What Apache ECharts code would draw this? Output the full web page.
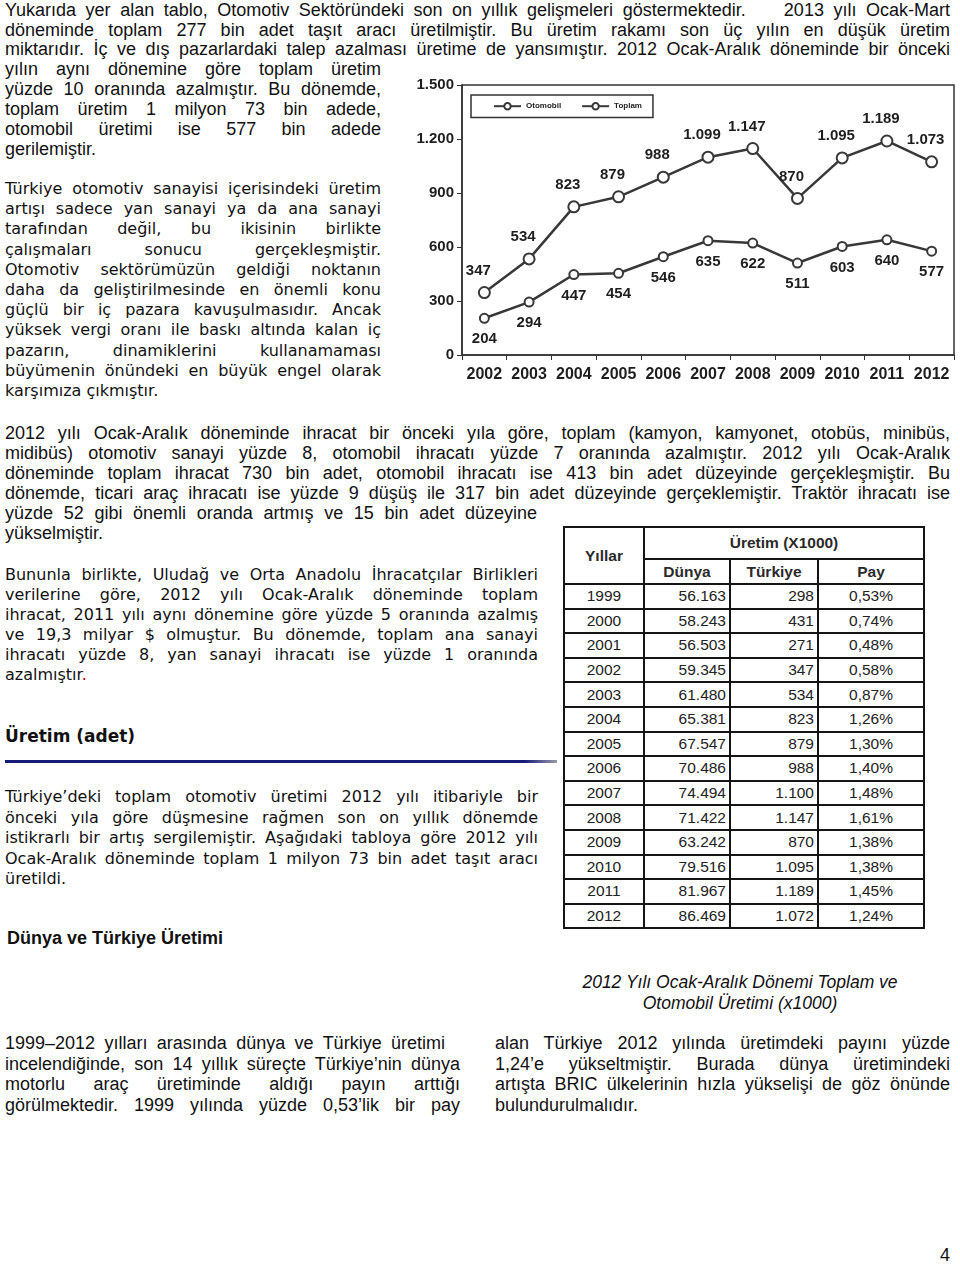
<!DOCTYPE html>
<html>
<head>
<meta charset="utf-8">
<script src="https://cdn.jsdelivr.net/npm/echarts@6/dist/echarts.min.js"></script>
<style>
  html, body { margin: 0; padding: 0; background: #fff; }
  #page { position: relative; width: 960px; height: 1265px; overflow: hidden; background: #fff; color: #111; }
  .ln { position: absolute; height: 20px; line-height: 20px; white-space: normal; overflow: visible; }
  .j { text-align: justify; text-align-last: justify; }
  .v { font-family: "DejaVu Sans", Verdana, sans-serif; font-size: 16px; }
  .t { font-family: "Liberation Sans", Arial, sans-serif; font-size: 18px; }
  #chart { position: absolute; left: 400px; top: 60px; width: 560px; height: 340px; }
  #tbl { position: absolute; left: 563px; top: 526px; border-collapse: collapse; table-layout: fixed;
         font-family: "Liberation Sans", Arial, sans-serif; font-size: 15.5px; color: #222; }
  #tbl td, #tbl th { border: 2px solid #151515; padding: 0 3px; line-height: 18px; }
  #tbl th { font-weight: bold; color: #2a2a2a; }
  .abs { position: absolute; }
</style>
</head>
<body>
<div id="page">
  <div id="chart"></div>
</div>
<script>
// ---------------- chart data ----------------
const years = ['2002','2003','2004','2005','2006','2007','2008','2009','2010','2011','2012'];
const toplam = [347, 534, 823, 879, 988, 1099, 1147, 870, 1095, 1189, 1073];
const otomobil = [204, 294, 447, 454, 546, 635, 622, 511, 603, 640, 577];
const seriesNames = ['Otomobil', 'Toplam'];

// ---------------- table data ----------------
const tableYears = [1999, 2000, 2001, 2002, 2003, 2004, 2005, 2006, 2007, 2008, 2009, 2010, 2011, 2012];
const worldProd = [56163, 58243, 56503, 59345, 61480, 65381, 67547, 70486, 74494, 71422, 63242, 79516, 81967, 86469];
const turkeyProd = [298, 431, 271, 347, 534, 823, 879, 988, 1100, 1147, 870, 1095, 1189, 1072];
const sharePct = [0.53, 0.74, 0.48, 0.58, 0.87, 1.26, 1.30, 1.40, 1.48, 1.61, 1.38, 1.38, 1.45, 1.24];

const fmt = v => String(v).replace(/\B(?=(\d{3})+(?!\d))/g, '.');
const fmtPct = v => v.toFixed(2).replace('.', ',') + '%';

const page = document.getElementById('page');

// ---------------- text ----------------
function addLines(lines, x, w, y0, dy, cls) {
  lines.forEach((l, i) => {
    const d = document.createElement('div');
    d.className = 'ln ' + cls + (l.j ? ' j' : '');
    d.style.left = x + 'px';
    d.style.top = (y0 + i * dy - 10) + 'px';
    d.style.width = (l.w || w) + 'px';
    if (l.h) d.innerHTML = l.h; else d.textContent = l.t;
    page.appendChild(d);
  });
}

addLines([
  {t: 'Yukarıda yer alan tablo, Otomotiv Sektöründeki son on yıllık gelişmeleri göstermektedir.\u00a0\u00a0\u00a0 2013 yılı Ocak-Mart', j: true},
  {t: 'döneminde toplam 277 bin adet taşıt aracı üretilmiştir. Bu üretim rakamı son üç yılın en düşük üretim', j: true},
  {t: 'miktarıdır. İç ve dış pazarlardaki talep azalması üretime de yansımıştır. 2012 Ocak-Aralık döneminde bir önceki', j: true}
], 5, 945, 10, 19.5, 't');
addLines([
  {t: 'yılın aynı dönemine göre toplam üretim', j: true},
  {t: 'yüzde 10 oranında azalmıştır. Bu dönemde,', j: true},
  {t: 'toplam üretim 1 milyon 73 bin adede,', j: true},
  {t: 'otomobil üretimi ise 577 bin adede', j: true},
  {t: 'gerilemiştir.', j: false}
], 5, 376, 68.5, 20, 't');

addLines([
  {t: 'Türkiye otomotiv sanayisi içerisindeki üretim', j: true},
  {t: 'artışı sadece yan sanayi ya da ana sanayi', j: true},
  {t: 'tarafından değil, bu ikisinin birlikte', j: true},
  {t: 'çalışmaları sonucu gerçekleşmiştir.', j: true},
  {t: 'Otomotiv sektörümüzün geldiği noktanın', j: true},
  {t: 'daha da geliştirilmesinde en önemli konu', j: true},
  {t: 'güçlü bir iç pazara kavuşulmasıdır. Ancak', j: true},
  {t: 'yüksek vergi oranı ile baskı altında kalan iç', j: true},
  {t: 'pazarın, dinamiklerini kullanamaması', j: true},
  {t: 'büyümenin önündeki en büyük engel olarak', j: true},
  {t: 'karşımıza çıkmıştır.', j: false}
], 5, 376, 189, 20.2, 'v');

addLines([
  {t: '2012 yılı Ocak-Aralık döneminde ihracat bir önceki yıla göre, toplam (kamyon, kamyonet, otobüs, minibüs,', j: true},
  {t: 'midibüs) otomotiv sanayi yüzde 8, otomobil ihracatı yüzde 7 oranında azalmıştır. 2012 yılı Ocak-Aralık', j: true},
  {t: 'döneminde toplam ihracat 730 bin adet, otomobil ihracatı ise 413 bin adet düzeyinde gerçekleşmiştir. Bu', j: true},
  {t: 'dönemde, ticari araç ihracatı ise yüzde 9 düşüş ile 317 bin adet düzeyinde gerçeklemiştir. Traktör ihracatı ise', j: true},
  {t: 'yüzde 52 gibi önemli oranda artmış ve 15 bin adet düzeyine', j: true, w: 532},
  {t: 'yükselmiştir.', j: false}
], 5, 945, 433, 20, 't');

addLines([
  {t: 'Bununla birlikte, Uludağ ve Orta Anadolu İhracatçılar Birlikleri', j: true},
  {t: 'verilerine göre, 2012 yılı Ocak-Aralık döneminde toplam', j: true},
  {t: 'ihracat, 2011 yılı aynı dönemine göre yüzde 5 oranında azalmış', j: true},
  {t: 've 19,3 milyar $ olmuştur. Bu dönemde, toplam ana sanayi', j: true},
  {t: 'ihracatı yüzde 8, yan sanayi ihracatı ise yüzde 1 oranında', j: true},
  {h: 'azalmıştır<span style="color:#c00000">.</span>', j: false}
], 5, 533, 575, 20, 'v');

addLines([{t: 'Üretim (adet)', j: false}], 5, 300, 736, 20, 'v');
page.lastChild.style.fontWeight = 'bold';
page.lastChild.style.fontSize = '17px';

const bar = document.createElement('div');
bar.className = 'abs';
Object.assign(bar.style, {left: '5px', top: '760px', width: '552px', height: '3px',
  background: 'linear-gradient(to right, #141b78 0%, #141b78 94%, #9a9aa8 100%)'});
page.appendChild(bar);

addLines([
  {t: 'Türkiye’deki toplam otomotiv üretimi 2012 yılı itibariyle bir', j: true},
  {t: 'önceki yıla göre düşmesine rağmen son on yıllık dönemde', j: true},
  {t: 'istikrarlı bir artış sergilemiştir. Aşağıdaki tabloya göre 2012 yılı', j: true},
  {t: 'Ocak-Aralık döneminde toplam 1 milyon 73 bin adet taşıt aracı', j: true},
  {t: 'üretildi.', j: false}
], 5, 533, 797, 20.5, 'v');

addLines([{t: 'Dünya ve Türkiye Üretimi', j: false}], 7, 400, 938, 20, 't');
Object.assign(page.lastChild.style, {fontWeight: 'bold', fontSize: '18px'});

addLines([
  {t: '2012 Yılı Ocak-Aralık Dönemi Toplam ve', j: false},
  {t: 'Otomobil Üretimi (x1000)', j: false}
], 540, 400, 982, 20.5, 't');
[page.lastChild, page.lastChild.previousSibling].forEach(d => {
  Object.assign(d.style, {fontStyle: 'italic', fontSize: '17.5px', textAlign: 'center'});
});

addLines([
  {t: '1999–2012 yılları arasında dünya ve Türkiye üretimi', j: true, w: 440},
  {t: 'incelendiğinde, son 14 yıllık süreçte Türkiye’nin dünya', j: true},
  {t: 'motorlu araç üretiminde aldığı payın arttığı', j: true},
  {t: 'görülmektedir. 1999 yılında yüzde 0,53’lik bir pay', j: true}
], 5, 455, 1043, 20.7, 't');
addLines([
  {t: 'alan Türkiye 2012 yılında üretimdeki payını yüzde', j: true},
  {t: '1,24’e yükseltmiştir. Burada dünya üretimindeki', j: true},
  {t: 'artışta BRIC ülkelerinin hızla yükselişi de göz önünde', j: true},
  {t: 'bulundurulmalıdır.', j: false}
], 495, 455, 1043, 20.7, 't');

addLines([{t: '4', j: false}], 940, 20, 1255, 20, 't');

// shrink any line that wraps
function fitLines() {
  document.querySelectorAll('.ln').forEach(d => {
    let fs = parseFloat(getComputedStyle(d).fontSize);
    let guard = 0;
    while (d.scrollHeight > 30 && guard < 40) {
      fs -= 0.25; d.style.fontSize = fs + 'px'; guard++;
    }
  });
}
fitLines();

// ---------------- table ----------------
(function buildTable() {
  const t = document.createElement('table');
  t.id = 'tbl';
  const colW = [80, 86, 88, 106];
  let html = '<colgroup>' + colW.map(w => '<col style="width:' + w + 'px">').join('') + '</colgroup>';
  html += '<tr style="height:32px"><th rowspan="2" style="text-align:center">Yıllar</th><th colspan="3" style="text-align:center">Üretim (X1000)</th></tr>';
  html += '<tr style="height:25px"><th style="text-align:center">Dünya</th><th style="text-align:center">Türkiye</th><th style="text-align:center">Pay</th></tr>';
  tableYears.forEach((y, i) => {
    html += '<tr style="height:24.6px"><td style="text-align:center">' + y + '</td>' +
      '<td style="text-align:right">' + fmt(worldProd[i]) + '</td>' +
      '<td style="text-align:right">' + fmt(turkeyProd[i]) + '</td>' +
      '<td style="text-align:center">' + fmtPct(sharePct[i]) + '</td></tr>';
  });
  t.innerHTML = html;
  t.style.width = colW.reduce((a, b) => a + b, 0) + 'px';
  page.appendChild(t);
})();

// ---------------- chart ----------------
const chart = echarts.init(document.getElementById('chart'), null, {renderer: 'canvas'});
const lineColor = '#383838';
const labelStyle = {fontSize: 15, fontWeight: 'bold', color: '#1e1e1e', fontFamily: '"Liberation Sans", Arial, sans-serif'};
chart.setOption({
  animation: false,
  textStyle: {fontFamily: '"Liberation Sans", Arial, sans-serif'},
  grid: {left: 62, right: 6, top: 25, bottom: 45, show: true, borderColor: '#333', borderWidth: 1.5},
  legend: {
    data: seriesNames, left: 71, top: 35, orient: 'horizontal',
    borderColor: '#333', borderWidth: 1.5, padding: [7, 11, 7, 22], itemGap: 20,
    itemWidth: 27, itemHeight: 8,
    textStyle: {fontSize: 8, fontWeight: 'bold', color: '#222'}
  },
  xAxis: {
    type: 'category', data: years, boundaryGap: true,
    axisLine: {lineStyle: {color: '#333', width: 1.5}},
    axisTick: {show: true, length: 5, lineStyle: {color: '#333'}},
    axisLabel: {interval: 0, fontSize: 16, fontWeight: 'bold', color: '#1e1e1e', margin: 12}
  },
  yAxis: {
    type: 'value', min: 0, max: 1500, interval: 300,
    axisLine: {show: true, lineStyle: {color: '#333', width: 1.5}},
    axisTick: {show: true, length: 5, lineStyle: {color: '#333'}},
    splitLine: {show: false},
    axisLabel: {fontSize: 15, fontWeight: 'bold', color: '#1e1e1e', margin: 8, formatter: v => fmt(v)}
  },
  series: [
    {
      name: seriesNames[0], type: 'line', data: otomobil,
      symbol: 'emptyCircle', symbolSize: 9,
      lineStyle: {color: lineColor, width: 2.5},
      itemStyle: {color: lineColor, borderWidth: 1.5},
      label: Object.assign({show: true, position: 'bottom', distance: 8, formatter: p => fmt(p.value)}, labelStyle)
    },
    {
      name: seriesNames[1], type: 'line', data: toplam,
      symbol: 'emptyCircle', symbolSize: 11,
      lineStyle: {color: lineColor, width: 2.5},
      itemStyle: {color: lineColor, borderWidth: 1.5},
      label: Object.assign({show: true, position: 'top', distance: 8, offset: [-6, 0], formatter: p => fmt(p.value)}, labelStyle)
    }
  ]
});
</script>
</body>
</html>
